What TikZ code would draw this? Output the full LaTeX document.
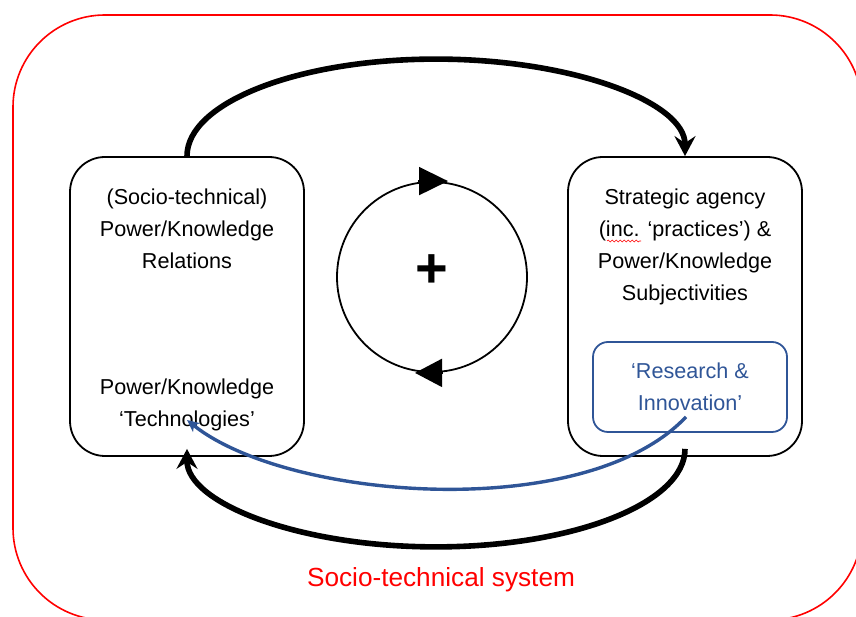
\documentclass[tikz,border=0pt]{standalone}
\usepackage{fontspec}
\setmainfont{Liberation Sans}
\usepackage{xcolor}
\usetikzlibrary{arrows.meta,positioning,decorations.pathmorphing}
\definecolor{systemred}{RGB}{255,0,0}
\definecolor{riblue}{RGB}{47,85,151}
\tikzset{
  box/.style={draw, line width=1.8, rounded corners=35, minimum width=234, minimum height=299},
  ribox/.style={draw=riblue, line width=1.8, rounded corners=15, minimum width=194, minimum height=90},
  boxtext/.style={align=center, inner sep=0, font=\fontsize{21.6}{32}\selectfont},
  bigarrow/.style={line width=5.6, -{Stealth[length=20pt,width=21pt,inset=7pt]}},
  riarrow/.style={riblue, line width=3.4, -{Stealth[length=12pt,width=11pt,inset=3pt]}}
}

\begin{document}
\begin{tikzpicture}[x=1pt,y=1pt]
    \useasboundingbox (0,0) rectangle (856,617);
    \clip (0,0) rectangle (856,617);

    % System boundary
    \draw[systemred, line width=1.6, rounded corners=92] (13,-3) rectangle (862,602);
    \node[systemred, inner sep=0, font=\fontsize{26.2}{30}\selectfont] (system) at (441,37) {Socio-technical system};

    % Boxes
    \node[box] (relations) at (187,310.5) {};
    \node[box] (agency) at (685,310.5) {};
    \node[ribox] (research) at (690,230) {};

    \node[boxtext] (relText) at (187,388) {(Socio-technical)\\Power/Knowledge\\Relations};
    \node[boxtext] (techText) at (187,212) {Power/Knowledge\\‘Technologies’};
    \node[boxtext] (agencyText) at (685,370) {Strategic agency\\(inc. ‘practices’) \&\\Power/Knowledge\\Subjectivities};
    \node[boxtext, riblue] (researchText) at (690,230.5) {‘Research \&\\Innovation’};
    \draw[systemred, line width=0.6, decorate, decoration={snake, amplitude=0.9, segment length=4}] (607,376) -- (641,376);

    % Reinforcing loop
    \node[draw, circle, line width=1.8, minimum size=190, inner sep=0] (loop) at (432,340) {};
    \node[font=\bfseries\fontsize{56}{56}\selectfont, inner sep=0] (plus) at ([yshift=6]loop.center) {+};
    \draw[line width=1.8, -{Triangle[length=29pt,width=28pt]}] ([xshift=-14]loop.north) -- ([xshift=16]loop.north);
    \draw[line width=1.8, -{Triangle[length=27pt,width=28pt]}] ([xshift=11]loop.south) -- ([xshift=-17]loop.south);

    % Relations -> agency, and back
    \draw[bigarrow] (relations.north) arc[start angle=180, end angle=0, x radius=249, y radius=97];
    \draw[bigarrow] ([yshift=8]agency.south) arc[start angle=0, end angle=-180, x radius=249, y radius=98];

    % Research & innovation feeding technologies
    \draw[riarrow] ([xshift=-4,yshift=16]research.south) .. controls +(-101,-107) and +(100,-80) .. ([yshift=-15]techText.center);
\end{tikzpicture}
\end{document}
